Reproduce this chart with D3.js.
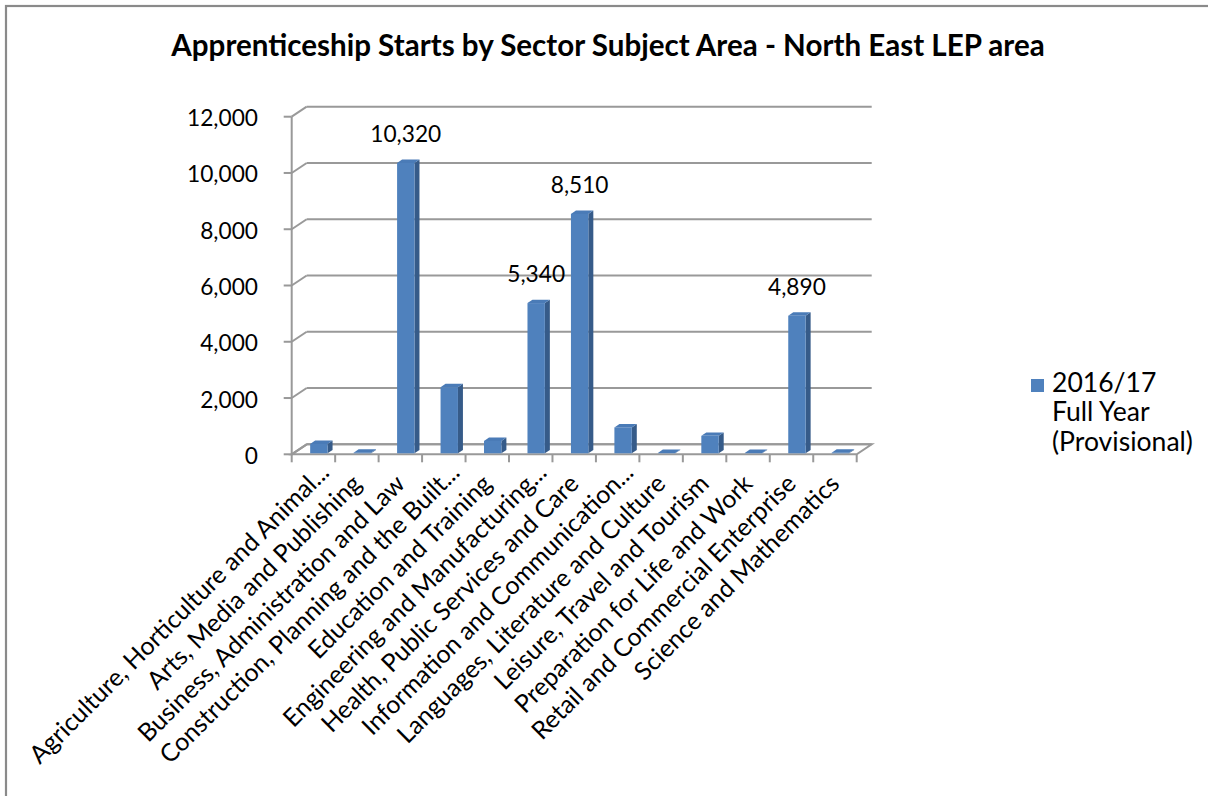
<!DOCTYPE html>
<html>
<head>
<meta charset="utf-8">
<script src="https://cdn.jsdelivr.net/npm/d3@7"></script>
<style>
  html, body { margin: 0; padding: 0; background: #fff; }
  svg { display: block; }
  text { font-family: Lato, "Open Sans", sans-serif; fill: #000; }
</style>
</head>
<body>
<svg id="chart" width="1208" height="796"></svg>
<script>
// Apprenticeship starts, 2016/17 full year (provisional), North East LEP area
const categories = [
  "Agriculture, Horticulture and Animal...",
  "Arts, Media and Publishing",
  "Business, Administration and Law",
  "Construction, Planning and the Built...",
  "Education and Training",
  "Engineering and Manufacturing...",
  "Health, Public Services and Care",
  "Information and Communication...",
  "Languages, Literature and Culture",
  "Leisure, Travel and Tourism",
  "Preparation for Life and Work",
  "Retail and Commercial Enterprise",
  "Science and Mathematics"
];
const starts = [330, 20, 10320, 2350, 440, 5340, 8510, 920, 10, 620, 10, 4890, 20];
const labelledCategories = [
  "Business, Administration and Law",
  "Engineering and Manufacturing...",
  "Health, Public Services and Care",
  "Retail and Commercial Enterprise"
];
const yTicks = [0, 2000, 4000, 6000, 8000, 10000, 12000];
const seriesName = ["2016/17", "Full Year", "(Provisional)"];
const chartTitle = "Apprenticeship Starts by Sector Subject Area - North East LEP area";

const svg = d3.select("#chart");
const fmt = d3.format(",");

// plot frame (front edge of the floor / value axis)
const X0 = 291.7, X1 = 856.7;
const DX = 15, DY = 10;          // depth of the back wall
const x = d3.scaleBand().domain(categories).range([X0, X1]);
const y = d3.scaleLinear().domain([0, 12000]).range([454.3, 116.7]);

const gridColor = "#999999";
const frontFill = "#4f81bd", sideFill = "#365b89", topFill = "#4a7bb7";

// font size that makes a text node span the target width
function fit(sel, target, base) {
  sel.style("font-size", base + "px");
  const w = sel.node().getComputedTextLength();
  return base * target / w;
}

// outer chart border
svg.append("rect")
  .attr("x", 6).attr("y", 6).attr("width", 1220).attr("height", 820)
  .attr("fill", "#fff").attr("stroke", "#8a8a8a").attr("stroke-width", 2.2);

// title
const title = svg.append("text")
  .attr("x", 608).attr("y", 56)
  .attr("text-anchor", "middle")
  .style("font-weight", "bold")
  .text(chartTitle);
title.style("font-size", fit(title, 874, 26) + "px");

// back wall gridlines with their diagonal links to the front axis
const grid = svg.append("g").attr("stroke", gridColor).attr("stroke-width", 2).attr("fill", "none");
grid.selectAll("line.back").data(yTicks).join("line")
  .attr("class", "back")
  .attr("x1", X0 + DX).attr("x2", X1 + DX)
  .attr("y1", d => y(d) - DY).attr("y2", d => y(d) - DY);
grid.selectAll("line.diag").data(yTicks).join("line")
  .attr("class", "diag")
  .attr("x1", X0).attr("x2", X0 + DX)
  .attr("y1", d => y(d)).attr("y2", d => y(d) - DY);

// floor outline
grid.append("path")
  .attr("d", d3.line()([[X0, y(0)], [X1, y(0)], [X1 + DX, y(0) - DY], [X0 + DX, y(0) - DY]]) + "Z");

// value axis line and tick marks
const ax = svg.append("g").attr("stroke", gridColor).attr("stroke-width", 2);
ax.append("line").attr("x1", X0).attr("x2", X0).attr("y1", y(0) + 1).attr("y2", y(12000));
ax.selectAll("line.yt").data(yTicks).join("line")
  .attr("class", "yt")
  .attr("x1", X0 - 8).attr("x2", X0).attr("y1", d => y(d)).attr("y2", d => y(d));
// category tick marks on band boundaries
const bounds = categories.map(c => x(c)).concat([X1]);
ax.selectAll("line.xt").data(bounds).join("line")
  .attr("class", "xt")
  .attr("x1", d => d).attr("x2", d => d).attr("y1", y(0)).attr("y2", y(0) + 8);

// value tick labels
const probe = svg.append("text").text(fmt(10000));
const numSize = fit(probe, 71, 20);
probe.remove();
svg.append("g").selectAll("text").data(yTicks).join("text")
  .attr("x", 258).attr("y", d => y(d) + 9.5)
  .attr("text-anchor", "end")
  .style("font-size", numSize + "px")
  .text(d => fmt(d));

// 3D columns
const bw = x.bandwidth() * 0.4;
const off = x.bandwidth() * 0.425;
const dd = 5, ddy = 3.4;
const rows = categories.map((c, i) => ({ c, v: starts[i] }));
const bars = svg.append("g").selectAll("g").data(rows).join("g");
bars.each(function (d) {
  const g = d3.select(this);
  const xl = x(d.c) + off, xr = xl + bw;
  const yb = y(0) - 1, yt = y(d.v) - 1;
  g.append("path").attr("fill", sideFill)
    .attr("d", d3.line()([[xr, yb], [xr + dd, yb - ddy], [xr + dd, yt - ddy], [xr, yt]]) + "Z");
  g.append("rect").attr("fill", frontFill)
    .attr("x", xl).attr("y", yt).attr("width", bw).attr("height", yb - yt);
  g.append("path").attr("fill", topFill)
    .attr("d", d3.line()([[xl, yt], [xr, yt], [xr + dd, yt - ddy], [xl + dd, yt - ddy]]) + "Z");
});

// data labels
svg.append("g").selectAll("text")
  .data(rows.filter(d => labelledCategories.includes(d.c))).join("text")
  .attr("x", d => x(d.c) + off + bw / 2)
  .attr("y", d => y(d.v) - 22)
  .attr("text-anchor", "middle")
  .style("font-size", numSize + "px")
  .text(d => fmt(d.v));

// rotated category labels
const catProbe = svg.append("text").text(categories[0]);
const catSize = fit(catProbe, 412, 20);
catProbe.remove();
svg.append("g").selectAll("text").data(categories).join("text")
  .attr("transform", d => {
    const px = x(d) + x.bandwidth() / 2 + 6;
    const py = y(0) + 31;
    return `translate(${px},${py}) rotate(-45)`;
  })
  .attr("dx", d => d.endsWith("...") ? 16 : 0)
  .attr("text-anchor", "end")
  .style("font-size", catSize + "px")
  .text(d => d);

// legend
const lg = svg.append("g");
lg.append("rect").attr("x", 1031).attr("y", 379).attr("width", 13).attr("height", 13).attr("fill", frontFill);
const lt = lg.selectAll("text").data(seriesName).join("text")
  .attr("x", 1052).attr("y", (d, i) => 392 + i * 29.3)
  .text(d => d);
const legSize = fit(lt.filter((d, i) => i === 2), 141, 20);
lt.style("font-size", legSize + "px");
</script>
</body>
</html>
